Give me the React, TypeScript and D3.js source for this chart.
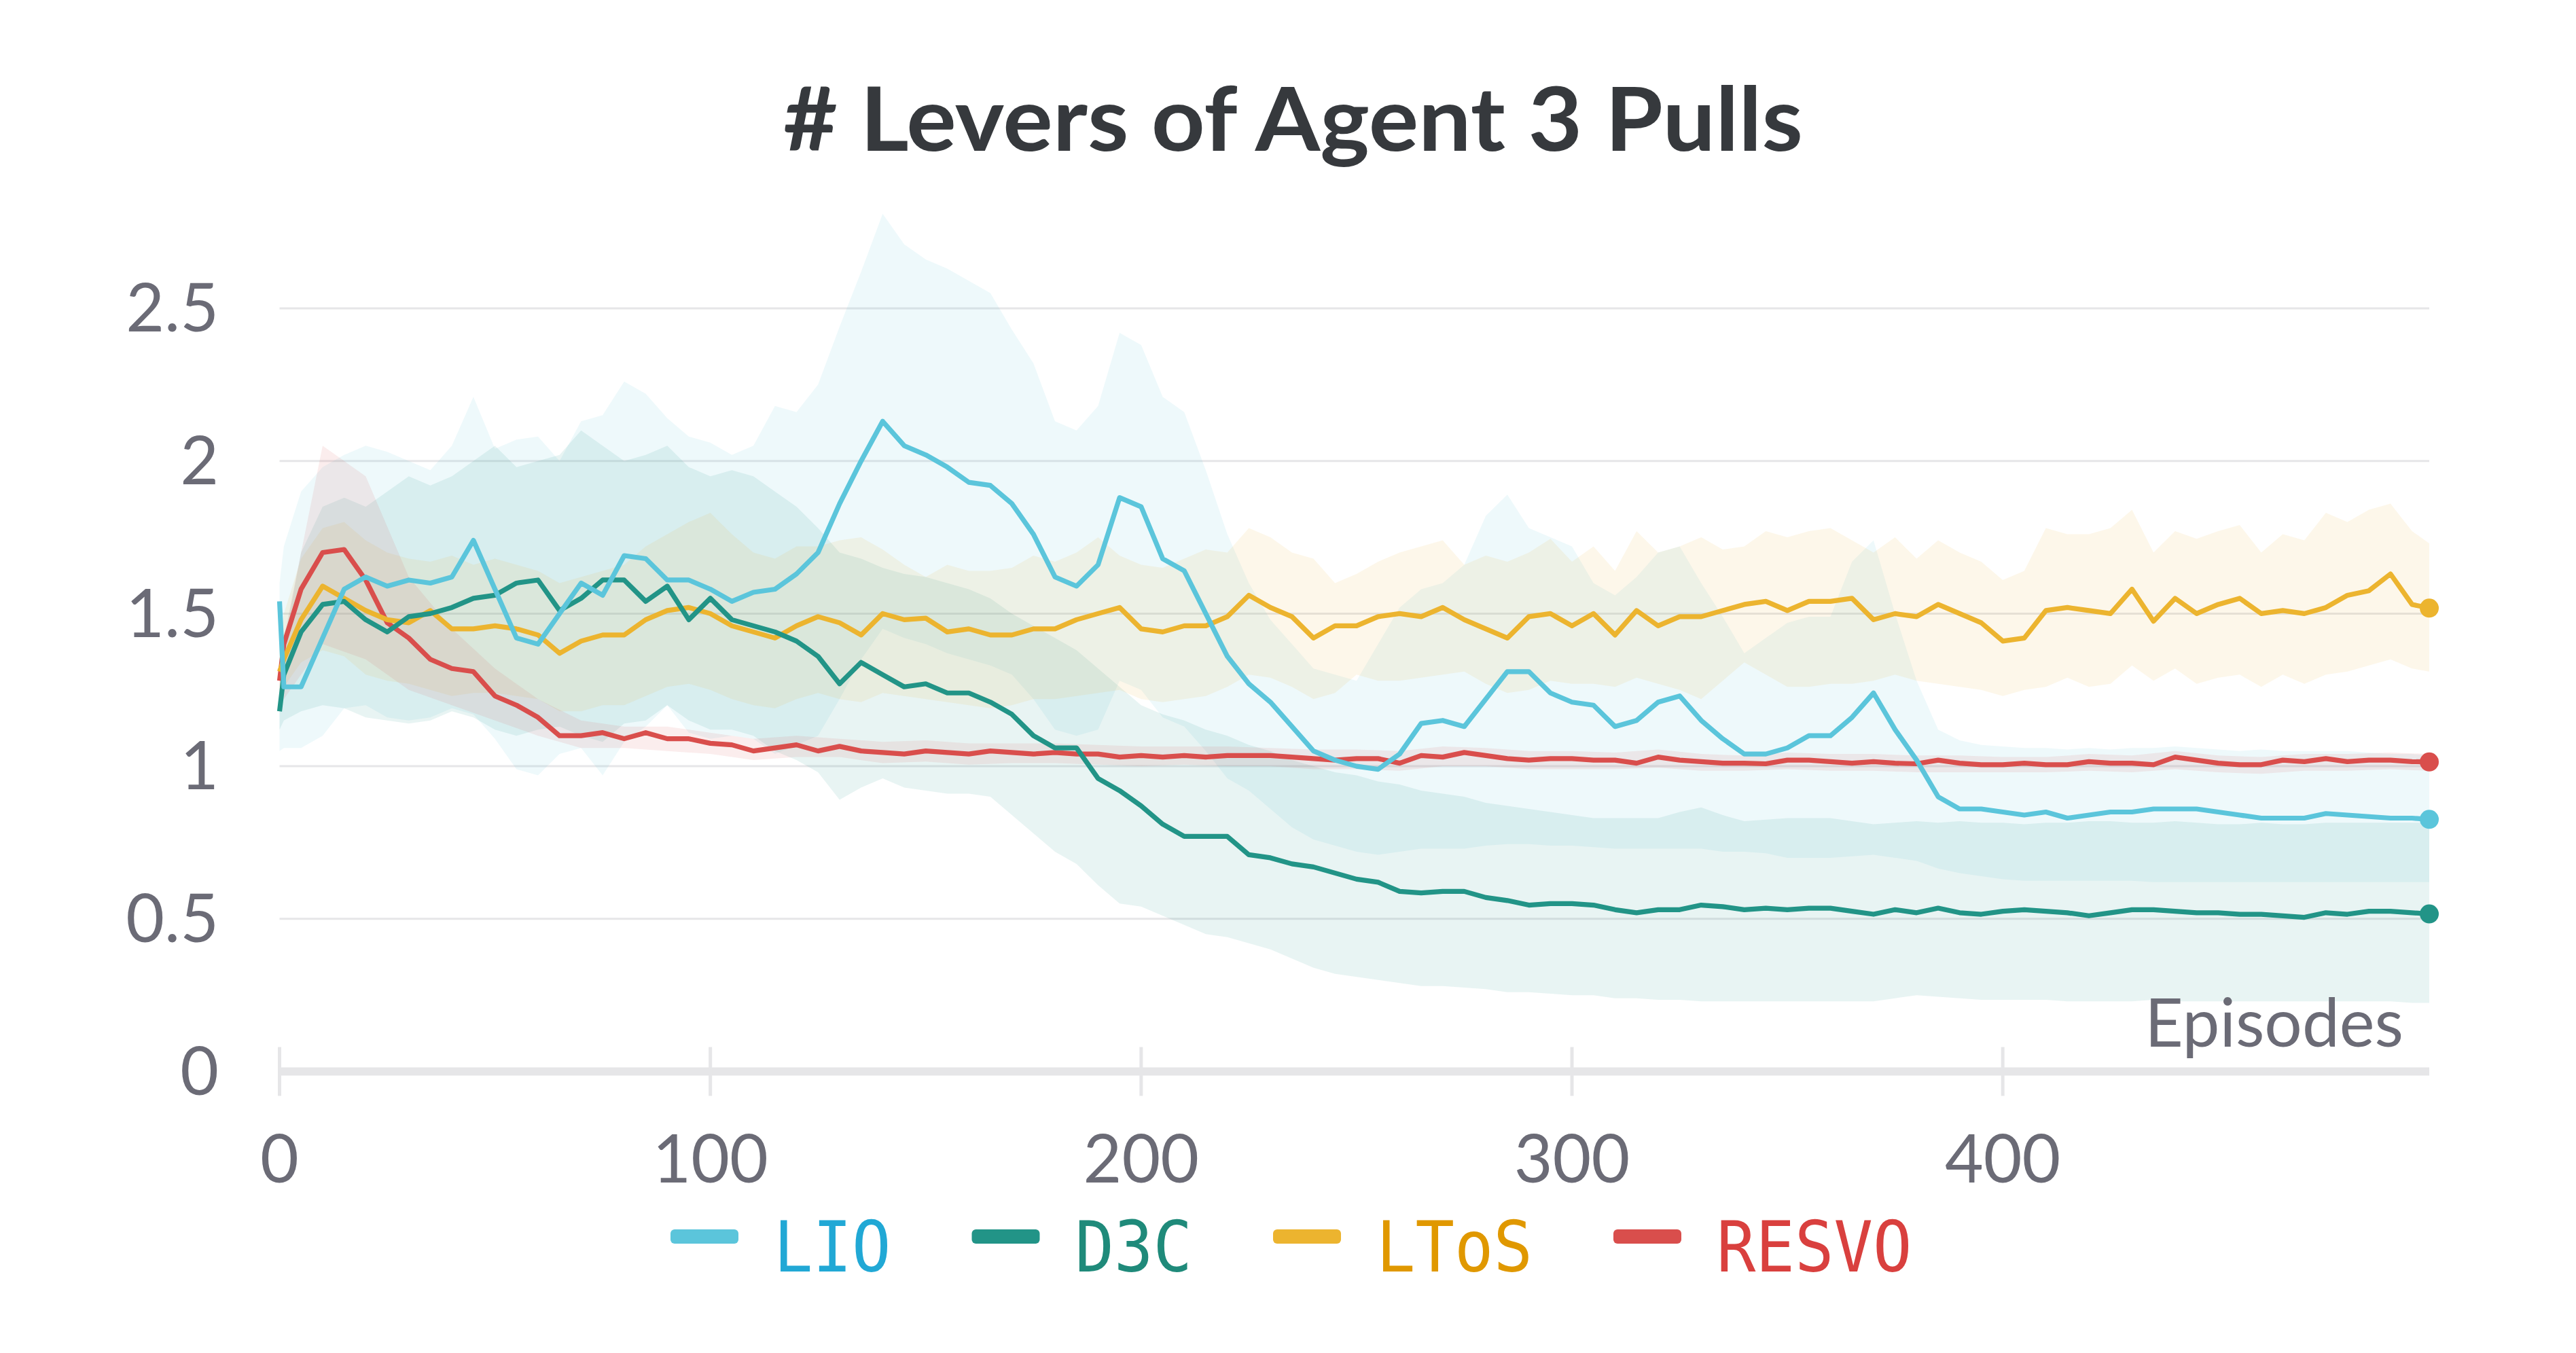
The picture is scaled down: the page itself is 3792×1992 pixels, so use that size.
import { area, line, range, scaleLinear } from 'd3';

const width = 3792;
const height = 1992;
const plot = { left: 411.5, right: 3576, top: 454, bottom: 1577.5 };

// x positions of the samples (episodes)
const episodes = [0, 1, ...range(5, 500, 5), 499];
const coarseEpisodes = [...range(0, 500, 10), 499];

const xTicks = [0, 100, 200, 300, 400];
const yTicks = [0, 0.5, 1, 1.5, 2, 2.5];
const yTickLabels = ['0', '0.5', '1', '1.5', '2', '2.5'];

// mean curves, on episodes
const lioMean = [
	1.54, 1.26,
	1.26, 1.42, 1.58, 1.62, 1.59, 1.61, 1.6, 1.62, 1.74, 1.58,
	1.42, 1.4, 1.5, 1.6, 1.56, 1.69, 1.68, 1.61, 1.61, 1.58,
	1.54, 1.57, 1.58, 1.63, 1.7, 1.86, 2.0, 2.13, 2.05, 2.02,
	1.98, 1.93, 1.92, 1.86, 1.76, 1.62, 1.59, 1.66, 1.88, 1.85,
	1.68, 1.64, 1.5, 1.36, 1.27, 1.21, 1.13, 1.05, 1.02, 1.0,
	0.99, 1.04, 1.14, 1.15, 1.13, 1.22, 1.31, 1.31, 1.24, 1.21,
	1.2, 1.13, 1.15, 1.21, 1.23, 1.15, 1.09, 1.04, 1.04, 1.06,
	1.1, 1.1, 1.16, 1.24, 1.12, 1.02, 0.9, 0.86, 0.86, 0.85,
	0.84, 0.85, 0.83, 0.84, 0.85, 0.85, 0.86, 0.86, 0.86, 0.85,
	0.84, 0.83, 0.83, 0.83, 0.845, 0.84, 0.835, 0.83, 0.83,
	0.826,
];
const d3cMean = [
	1.18, 1.3,
	1.44, 1.53, 1.54, 1.48, 1.44, 1.49, 1.5, 1.52, 1.55, 1.56,
	1.6, 1.61, 1.51, 1.55, 1.61, 1.61, 1.54, 1.59, 1.48, 1.55,
	1.48, 1.46, 1.44, 1.41, 1.36, 1.27, 1.34, 1.3, 1.26, 1.27,
	1.24, 1.24, 1.21, 1.17, 1.1, 1.06, 1.06, 0.96, 0.92, 0.87,
	0.81, 0.77, 0.77, 0.77, 0.71, 0.7, 0.68, 0.67, 0.65, 0.63,
	0.62, 0.59, 0.585, 0.59, 0.59, 0.57, 0.56, 0.545, 0.55, 0.55,
	0.545, 0.53, 0.52, 0.53, 0.53, 0.545, 0.54, 0.53, 0.535, 0.53,
	0.535, 0.535, 0.525, 0.515, 0.53, 0.52, 0.535, 0.52, 0.515, 0.525,
	0.53, 0.525, 0.52, 0.51, 0.52, 0.53, 0.53, 0.525, 0.52, 0.52,
	0.515, 0.515, 0.51, 0.505, 0.52, 0.515, 0.525, 0.525, 0.52,
	0.516,
];
const ltosMean = [
	1.31, 1.35,
	1.48, 1.59, 1.55, 1.51, 1.48, 1.47, 1.51, 1.45, 1.45, 1.46,
	1.45, 1.43, 1.37, 1.41, 1.43, 1.43, 1.48, 1.51, 1.52, 1.5,
	1.46, 1.44, 1.42, 1.46, 1.49, 1.47, 1.43, 1.5, 1.48, 1.485,
	1.44, 1.45, 1.43, 1.43, 1.45, 1.45, 1.48, 1.5, 1.52, 1.45,
	1.44, 1.46, 1.46, 1.49, 1.56, 1.52, 1.49, 1.42, 1.46, 1.46,
	1.49, 1.5, 1.49, 1.52, 1.48, 1.45, 1.42, 1.49, 1.5, 1.46,
	1.5, 1.43, 1.51, 1.46, 1.49, 1.49, 1.51, 1.53, 1.54, 1.51,
	1.54, 1.54, 1.55, 1.48, 1.5, 1.49, 1.53, 1.5, 1.47, 1.41,
	1.42, 1.51, 1.52, 1.51, 1.5, 1.58, 1.475, 1.55, 1.5, 1.53,
	1.55, 1.5, 1.51, 1.5, 1.52, 1.56, 1.575, 1.63, 1.53,
	1.518,
];
const resvoMean = [
	1.28, 1.4,
	1.58, 1.7, 1.71, 1.61, 1.47, 1.42, 1.35, 1.32, 1.31, 1.23,
	1.2, 1.16, 1.1, 1.1, 1.11, 1.09, 1.11, 1.09, 1.09, 1.075,
	1.07, 1.05, 1.06, 1.07, 1.05, 1.065, 1.05, 1.045, 1.04, 1.05,
	1.045, 1.04, 1.05, 1.045, 1.04, 1.045, 1.04, 1.04, 1.03, 1.035,
	1.03, 1.035, 1.03, 1.035, 1.035, 1.035, 1.03, 1.025, 1.02, 1.025,
	1.025, 1.01, 1.035, 1.03, 1.045, 1.035, 1.025, 1.02, 1.025, 1.025,
	1.02, 1.02, 1.01, 1.03, 1.02, 1.015, 1.01, 1.01, 1.008, 1.02,
	1.02, 1.015, 1.01, 1.015, 1.01, 1.008, 1.02, 1.01, 1.005, 1.005,
	1.01, 1.005, 1.005, 1.015, 1.01, 1.01, 1.005, 1.03, 1.02, 1.01,
	1.005, 1.005, 1.02, 1.015, 1.025, 1.015, 1.02, 1.02, 1.015,
	1.014,
];

// shaded ranges (LIO, D3C, LToS on episodes; RESVO on coarseEpisodes)
const lioHi = [
	1.6, 1.72,
	1.9, 1.98, 2.02, 2.05, 2.03, 2.0, 1.97, 2.05, 2.21, 2.04,
	2.07, 2.08, 2.0, 2.13, 2.15, 2.26, 2.22, 2.14, 2.08, 2.06,
	2.02, 2.05, 2.18, 2.16, 2.25, 2.44, 2.62, 2.81, 2.71, 2.66,
	2.63, 2.59, 2.55, 2.43, 2.32, 2.13, 2.1, 2.18, 2.42, 2.38,
	2.21, 2.16, 1.97, 1.76, 1.6, 1.48, 1.4, 1.32, 1.3, 1.28,
	1.4, 1.52, 1.58, 1.6, 1.66, 1.82, 1.89, 1.78, 1.75, 1.72,
	1.6, 1.56, 1.62, 1.7, 1.72, 1.6, 1.49, 1.37, 1.42, 1.47,
	1.49, 1.49, 1.67, 1.74, 1.5, 1.28, 1.12, 1.085, 1.07, 1.065,
	1.06, 1.06, 1.055, 1.06, 1.055, 1.06, 1.06, 1.065, 1.06, 1.055,
	1.05, 1.055, 1.05, 1.05, 1.05, 1.05, 1.045, 1.04, 1.04,
	1.035,
];
const lioLo = [
	1.05, 1.06,
	1.06, 1.1, 1.19, 1.2, 1.16, 1.15, 1.16, 1.19, 1.17, 1.09,
	0.99, 0.97, 1.04, 1.06, 0.97, 1.08, 1.13, 1.2, 1.11, 1.09,
	1.1, 1.09, 1.04, 1.07, 1.1, 1.22, 1.35, 1.45, 1.42, 1.4,
	1.37, 1.35, 1.33, 1.3, 1.22, 1.12, 1.1, 1.12, 1.28, 1.25,
	1.16, 1.13, 1.05, 0.96, 0.92, 0.86, 0.8, 0.76, 0.74, 0.72,
	0.71, 0.72, 0.73, 0.73, 0.73, 0.74, 0.745, 0.745, 0.74, 0.74,
	0.735, 0.73, 0.73, 0.73, 0.73, 0.73, 0.72, 0.72, 0.715, 0.7,
	0.7, 0.7, 0.705, 0.71, 0.7, 0.69, 0.665, 0.65, 0.64, 0.63,
	0.625, 0.625, 0.625, 0.625, 0.625, 0.625, 0.62, 0.62, 0.62, 0.62,
	0.62, 0.62, 0.62, 0.62, 0.62, 0.62, 0.62, 0.62, 0.62,
	0.62,
];
const d3cHi = [
	1.22, 1.4,
	1.7, 1.85, 1.88, 1.85, 1.9, 1.95, 1.92, 1.95, 2.0, 2.05,
	1.98, 2.0, 2.02, 2.1, 2.05, 2.0, 2.02, 2.05, 1.98, 1.95,
	1.97, 1.95, 1.9, 1.85, 1.78, 1.7, 1.68, 1.65, 1.63, 1.62,
	1.6, 1.58, 1.55, 1.5, 1.46, 1.42, 1.38, 1.32, 1.26, 1.2,
	1.17, 1.15, 1.12, 1.1, 1.07, 1.05, 1.02, 1.0, 0.98, 0.97,
	0.95, 0.94, 0.92, 0.91, 0.9, 0.88, 0.87, 0.86, 0.85, 0.84,
	0.83, 0.83, 0.83, 0.83, 0.85, 0.865, 0.84, 0.82, 0.825, 0.83,
	0.83, 0.83, 0.82, 0.81, 0.815, 0.82, 0.815, 0.82, 0.815, 0.815,
	0.81, 0.815, 0.815, 0.82, 0.82, 0.815, 0.815, 0.82, 0.815, 0.81,
	0.81, 0.815, 0.81, 0.81, 0.815, 0.815, 0.815, 0.815, 0.815,
	0.815,
];
const d3cLo = [
	1.12, 1.15,
	1.18, 1.2, 1.19, 1.16, 1.15, 1.14, 1.15, 1.18, 1.16, 1.12,
	1.1, 1.12, 1.13, 1.1, 1.08, 1.14, 1.15, 1.2, 1.15, 1.12,
	1.12, 1.1, 1.05, 1.02, 0.98, 0.89, 0.93, 0.96, 0.93, 0.92,
	0.91, 0.91, 0.9, 0.84, 0.78, 0.72, 0.68, 0.61, 0.55, 0.54,
	0.51, 0.48, 0.45, 0.44, 0.42, 0.4, 0.37, 0.34, 0.32, 0.31,
	0.3, 0.29, 0.28, 0.28, 0.275, 0.27, 0.26, 0.26, 0.255, 0.25,
	0.25, 0.24, 0.24, 0.235, 0.235, 0.23, 0.23, 0.23, 0.23, 0.23,
	0.23, 0.23, 0.23, 0.23, 0.24, 0.25, 0.245, 0.24, 0.235, 0.235,
	0.235, 0.235, 0.23, 0.23, 0.23, 0.23, 0.235, 0.23, 0.23, 0.23,
	0.23, 0.23, 0.23, 0.23, 0.23, 0.23, 0.23, 0.23, 0.225,
	0.225,
];
const ltosHi = [
	1.4, 1.5,
	1.68, 1.78, 1.8, 1.74, 1.7, 1.68, 1.67, 1.69, 1.66, 1.68,
	1.66, 1.64, 1.6, 1.62, 1.64, 1.66, 1.72, 1.76, 1.8, 1.83,
	1.76, 1.7, 1.68, 1.72, 1.72, 1.74, 1.75, 1.71, 1.66, 1.62,
	1.66, 1.64, 1.64, 1.65, 1.69, 1.67, 1.7, 1.75, 1.69, 1.66,
	1.65, 1.68, 1.71, 1.7, 1.78, 1.75, 1.7, 1.68, 1.6, 1.63,
	1.67, 1.7, 1.72, 1.74, 1.66, 1.69, 1.67, 1.7, 1.745, 1.67,
	1.72, 1.64, 1.77, 1.7, 1.72, 1.75, 1.71, 1.72, 1.77, 1.75,
	1.77, 1.78, 1.74, 1.7, 1.75, 1.68, 1.74, 1.7, 1.67, 1.61,
	1.64, 1.78, 1.76, 1.76, 1.78, 1.84, 1.7, 1.77, 1.745, 1.77,
	1.79, 1.7, 1.76, 1.74, 1.83, 1.8, 1.84, 1.86, 1.77,
	1.73,
];
const ltosLo = [
	1.2, 1.26,
	1.34, 1.38, 1.36, 1.3, 1.28, 1.27, 1.25, 1.23, 1.24, 1.24,
	1.23, 1.22, 1.18, 1.18, 1.2, 1.2, 1.23, 1.26, 1.27, 1.25,
	1.22, 1.2, 1.19, 1.22, 1.24, 1.22, 1.21, 1.24, 1.23, 1.22,
	1.21, 1.2, 1.19, 1.2, 1.22, 1.22, 1.23, 1.24, 1.25, 1.22,
	1.21, 1.22, 1.23, 1.26, 1.3, 1.29, 1.26, 1.22, 1.24, 1.3,
	1.28, 1.28, 1.29, 1.3, 1.31, 1.27, 1.24, 1.25, 1.28, 1.27,
	1.27, 1.26, 1.29, 1.27, 1.25, 1.22, 1.28, 1.34, 1.3, 1.26,
	1.26, 1.27, 1.27, 1.28, 1.3, 1.28, 1.27, 1.26, 1.25, 1.23,
	1.25, 1.26, 1.29, 1.26, 1.27, 1.33, 1.28, 1.32, 1.27, 1.29,
	1.3, 1.26, 1.3, 1.27, 1.3, 1.31, 1.33, 1.35, 1.32,
	1.31,
];
const resvoHi = [
	1.35, 2.05, 1.95, 1.62, 1.45, 1.32, 1.22, 1.15, 1.13, 1.13,
	1.11, 1.09, 1.1, 1.09, 1.08, 1.085, 1.075, 1.075, 1.075, 1.07,
	1.065, 1.065, 1.065, 1.06, 1.055, 1.055, 1.05, 1.065, 1.06, 1.05,
	1.05, 1.045, 1.055, 1.04, 1.035, 1.045, 1.04, 1.04, 1.035, 1.035,
	1.03, 1.03, 1.04, 1.035, 1.05, 1.035, 1.03, 1.04, 1.04, 1.045,
	1.04,
];
const resvoLo = [
	1.2, 1.4, 1.35, 1.25, 1.2, 1.15, 1.1, 1.06, 1.06, 1.05,
	1.04, 1.02, 1.03, 1.03, 1.01, 1.015, 1.005, 1.01, 1.01, 1.005,
	1.0, 1.005, 1.0, 1.0, 0.99, 0.99, 0.985, 1.0, 1.0, 0.99,
	0.99, 0.99, 0.995, 0.985, 0.985, 0.99, 0.985, 0.985, 0.98, 0.98,
	0.98, 0.98, 0.985, 0.98, 0.99, 0.98, 0.975, 0.985, 0.985, 0.99,
	0.985,
];

const series = [
	{ name: 'LIO', color: '#5bc5db', text: '#21a8d5', bandAlpha: 0.1, mean: lioMean, bandX: episodes, lo: lioLo, hi: lioHi },
	{ name: 'D3C', color: '#229487', text: '#1f8a7a', bandAlpha: 0.1, mean: d3cMean, bandX: episodes, lo: d3cLo, hi: d3cHi },
	{ name: 'LToS', color: '#ecb42f', text: '#e09800', bandAlpha: 0.1, mean: ltosMean, bandX: episodes, lo: ltosLo, hi: ltosHi },
	{ name: 'RESVO', color: '#d94e4c', text: '#d9403e', bandAlpha: 0.1, mean: resvoMean, bandX: coarseEpisodes, lo: resvoLo, hi: resvoHi },
];

const labelColor = '#6b6b76';
const gridColor = '#e6e6e8';
const sans = 'Lato, "Noto Sans", sans-serif';

const xScale = scaleLinear().domain([0, 499]).range([plot.left, plot.right]);
const yScale = scaleLinear().domain([0, 2.5]).range([plot.bottom, plot.top]);

const Bands = () => (
	<g>
		{series.map(s => {
			const d = area<number>()
				.x(i => xScale(s.bandX[i]))
				.y0(i => yScale(s.lo[i]))
				.y1(i => yScale(s.hi[i]))(range(s.bandX.length));
			return <path key={s.name} d={d || ''} fill={s.color} fillOpacity={s.bandAlpha} />;
		})}
	</g>
);

const Lines = () => (
	<g>
		{[...series].reverse().map(s => {
			const d = line<number>()
				.x(i => xScale(episodes[i]))
				.y(i => yScale(s.mean[i]))(range(episodes.length));
			const last = s.mean.length - 1;
			return (
				<g key={s.name}>
					<path d={d || ''} fill="none" stroke={s.color} strokeWidth={7.2} strokeLinejoin="round" />
					<circle cx={xScale(episodes[last])} cy={yScale(s.mean[last])} r={14} fill={s.color} />
				</g>
			);
		})}
	</g>
);

const AxisLeft = () => (
	<g>
		{yTicks.map((t, i) => (
			<g key={t}>
				{t > 0 && (
					<line x1={plot.left} x2={plot.right} y1={yScale(t)} y2={yScale(t)} stroke={gridColor} strokeWidth={3} />
				)}
				<text
					x={322}
					y={yScale(t)}
					dy="0.35em"
					textAnchor="end"
					fontFamily={sans}
					fontSize={98}
					fill={labelColor}
				>
					{yTickLabels[i]}
				</text>
			</g>
		))}
	</g>
);

const AxisBottom = () => (
	<g>
		<line x1={plot.left} x2={plot.right} y1={yScale(0)} y2={yScale(0)} stroke={gridColor} strokeWidth={12} />
		{xTicks.map(t => (
			<g key={t} transform={`translate(${xScale(t)},0)`}>
				<line y1={yScale(0) - 36} y2={yScale(0) + 36} stroke={gridColor} strokeWidth={5} />
				<text y={1741} textAnchor="middle" fontFamily={sans} fontSize={98} fill={labelColor}>
					{t}
				</text>
			</g>
		))}
		<text x={3538} y={1541} textAnchor="end" fontFamily={sans} fontSize={98} fill={labelColor}>
			Episodes
		</text>
	</g>
);

const Legend = () => {
	const charW = 57.5;
	let x = 987;
	return (
		<g>
			{series.map(s => {
				const sx = x;
				const tx = sx + 152;
				const tw = s.name.length * charW;
				x = tx + tw + 119;
				return (
					<g key={s.name}>
						<rect x={sx} y={1810} width={100} height={21} rx={6} fill={s.color} />
						<text
							x={tx}
							y={1872}
							fontFamily='"DejaVu Sans Mono", monospace'
							fontSize={104}
							fill={s.text}
							textLength={tw}
							lengthAdjust="spacingAndGlyphs"
						>
							{s.name}
						</text>
					</g>
				);
			})}
		</g>
	);
};

const App = () => (
	<svg
		width={width}
		height={height}
		style={{ position: 'absolute', left: 0, top: 0, background: '#fff' }}
	>
		<text
			x={1153}
			y={222}
			fontFamily={sans}
			fontWeight={700}
			fontSize={131}
			fill="#36393d"
			textLength={1501}
			lengthAdjust="spacingAndGlyphs"
		>
			# Levers of Agent 3 Pulls
		</text>
		<AxisLeft />
		<Bands />
		<AxisBottom />
		<Lines />
		<Legend />
	</svg>
);

export default App;
